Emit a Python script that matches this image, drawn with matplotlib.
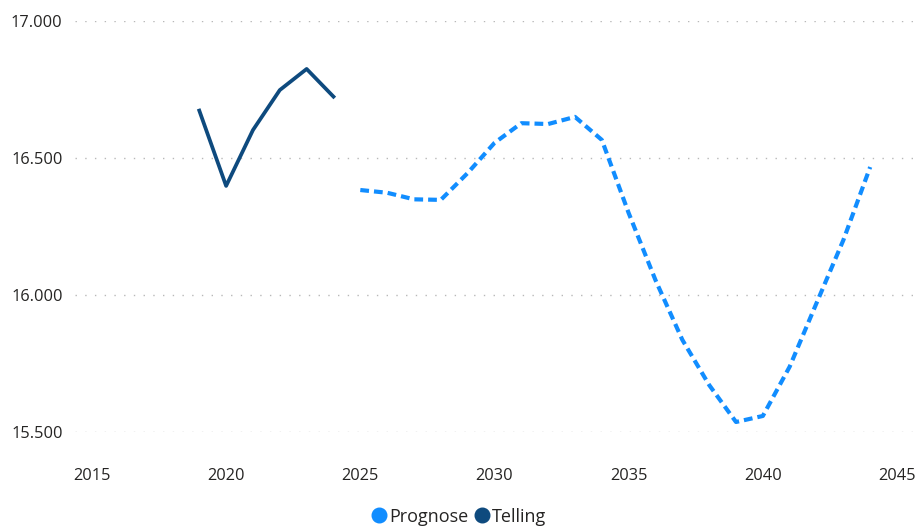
import matplotlib.pyplot as plt
from matplotlib.lines import Line2D

plt.rcParams['font.family'] = ['Open Sans', 'DejaVu Sans']

telling_years = [2019, 2020, 2021, 2022, 2023, 2024]
telling = [16673, 16398, 16602, 16748, 16825, 16724]

prognose_years = list(range(2025, 2045))
prognose = [16383, 16373, 16349, 16347, 16445, 16555, 16627, 16624, 16650, 16566,
            16299, 16054, 15836, 15671, 15536, 15558, 15738, 15970, 16200, 16467]

x_ticks = [2015, 2020, 2025, 2030, 2035, 2040, 2045]
y_ticks = [15500, 16000, 16500, 17000]

c_prog = '#118DFF'
c_tell = '#0E4A7E'
c_text = '#252423'

fig = plt.figure(figsize=(9.15, 5.26), dpi=100)
ax = fig.add_axes([0.082, 0.179, 0.918, 0.781])

ax.plot(prognose_years, prognose, color=c_prog, lw=3.0, dashes=(2.1, 1.2), solid_capstyle='butt')
ax.plot(telling_years, telling, color=c_tell, lw=2.7, solid_joinstyle='round')

ax.set_xlim(2014.37, 2045.67)
ax.set_ylim(15500, 17000)
ax.set_xticks(x_ticks)
ax.set_yticks(y_ticks)
ax.set_yticklabels([f'{v:,}'.replace(',', '.') for v in y_ticks])
ax.tick_params(axis='both', length=0, labelsize=11.8, colors=c_text)
ax.tick_params(axis='y', pad=9)
ax.tick_params(axis='x', pad=26)

ax.grid(axis='y', color='#B8B8B8', lw=1, linestyle=(0, (1, 6)))
ax.set_axisbelow(True)
for s in ax.spines.values():
    s.set_visible(False)

handles = [Line2D([], [], marker='o', ls='', color=c_prog, markersize=10.5),
           Line2D([], [], marker='o', ls='', color=c_tell, markersize=10.5)]
fig.legend(handles, ['Prognose', 'Telling'], loc='center', bbox_to_anchor=(0.5, 0.018),
           ncol=2, frameon=False, fontsize=13, handletextpad=0.0, columnspacing=0.2,
           handlelength=1.1, labelcolor=c_text)

fig.savefig('out.png', dpi=100)
